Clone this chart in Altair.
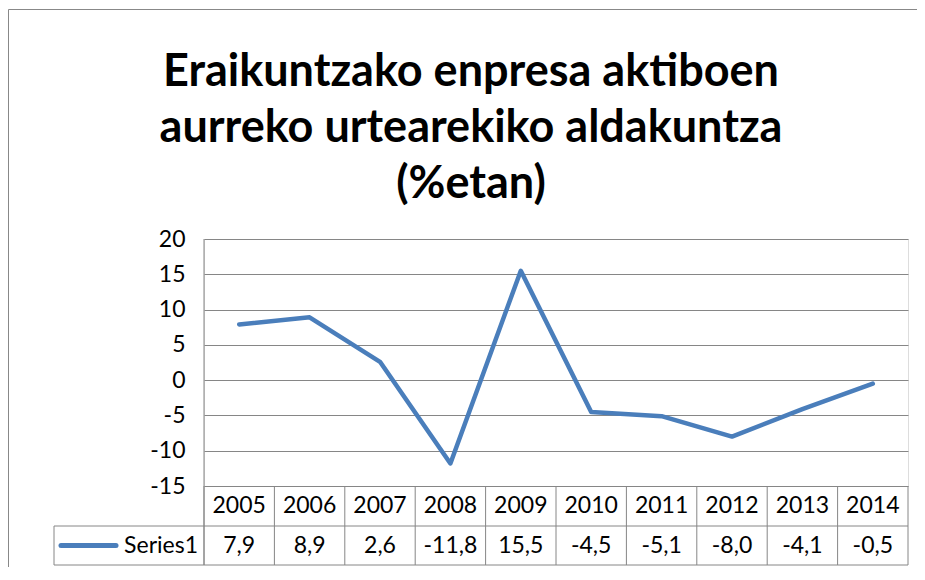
import altair as alt
import pandas as pd

years = ["2005", "2006", "2007", "2008", "2009", "2010", "2011", "2012", "2013", "2014"]
values = [7.9, 8.9, 2.6, -11.8, 15.5, -4.5, -5.1, -8.0, -4.1, -0.5]
labels = [f"{v:.1f}".replace(".", ",") for v in values]
series_name = "Series1"
title_lines = ["Eraikuntzako enpresa aktiboen", "aurreko urtearekiko aldakuntza", "(%etan)"]
y_ticks = [-15, -10, -5, 0, 5, 10, 15, 20]

df = pd.DataFrame({"year": years, "value": values, "label": labels})

W, H = 704, 247
ROW1, ROW2 = H + 40, H + 79   # bottom edges of the two table rows
FONT = "Lato"
FS = 23
GRID = "#868686"
BLUE = "#4A7EBB"

xscale = alt.Scale(type="band", paddingInner=0, paddingOuter=0, domain=years)
yscale = alt.Scale(domain=[-15, 20], nice=False, zero=False)

base = alt.Chart(df)

line = base.mark_line(color=BLUE, strokeWidth=4.5, strokeCap="round", strokeJoin="round").encode(
    x=alt.X("year:N", bandPosition=0.5, scale=xscale, axis=None),
    y=alt.Y("value:Q", scale=yscale,
            axis=alt.Axis(values=y_ticks, grid=True, gridColor=GRID, gridWidth=1,
                          domain=False, ticks=False, labelFont=FONT, labelFontSize=FS,
                          labelExpr="toString(datum.value)",
                          labelColor="black", labelPadding=19, title=None)),
)

col_rules = base.mark_rule(color=GRID, strokeWidth=1).encode(
    x=alt.X("year:N", bandPosition=0, scale=xscale, axis=None),
    y=alt.value(H), y2=alt.value(ROW2),
)

year_text = base.mark_text(font=FONT, fontSize=FS, color="black", baseline="middle").encode(
    x=alt.X("year:N", bandPosition=0.5, scale=xscale, axis=None),
    y=alt.value((H + ROW1) / 2), text="year:N",
)
val_text = base.mark_text(font=FONT, fontSize=FS, color="black", baseline="middle").encode(
    x=alt.X("year:N", bandPosition=0.5, scale=xscale, axis=None),
    y=alt.value((ROW1 + ROW2) / 2), text="label:N",
)

one = alt.Chart(pd.DataFrame({"a": [0]}))
mid2 = (ROW1 + ROW2) / 2
right_rule = one.mark_rule(color=GRID).encode(x=alt.value(W), y=alt.value(H), y2=alt.value(ROW2))
axis_rule = one.mark_rule(color=GRID).encode(x=alt.value(0), y=alt.value(0), y2=alt.value(ROW2))
hline1 = one.mark_rule(color=GRID).encode(x=alt.value(-150), x2=alt.value(W), y=alt.value(ROW1))
hline2 = one.mark_rule(color=GRID).encode(x=alt.value(-150), x2=alt.value(W), y=alt.value(ROW2))
vleft = one.mark_rule(color=GRID).encode(x=alt.value(-150), y=alt.value(ROW1), y2=alt.value(ROW2))
legend_line = one.mark_rule(color=BLUE, strokeWidth=5, strokeCap="round").encode(
    x=alt.value(-143), x2=alt.value(-88), y=alt.value(mid2))
series_text = one.mark_text(font=FONT, fontSize=FS, color="black", align="right", baseline="middle").encode(
    x=alt.value(-6), y=alt.value(mid2), text=alt.value(series_name))

outer_top = one.mark_rule(color="#888888").encode(x=alt.value(-195.5), x2=alt.value(W + 9), y=alt.value(-229.5))
outer_left = one.mark_rule(color="#888888").encode(x=alt.value(-195.5), y=alt.value(-229.5), y2=alt.value(ROW2 + 3))

title = one.mark_text(font=FONT, fontSize=45, fontWeight="bold", color="black", align="center",
                      baseline="alphabetic", lineHeight=56, lineBreak="\n").encode(
    x=alt.value(267), y=alt.value(86 - 239), text=alt.value("\n".join(title_lines)))

chart = alt.layer(
    outer_top, outer_left, title,
    col_rules, right_rule, axis_rule, hline1, hline2, vleft,
    year_text, val_text, legend_line, series_text, line,
).properties(
    width=W, height=H,
    autosize=alt.AutoSizeParams(type="none"),
    padding={"left": 196, "top": 231, "right": 9, "bottom": 81},
).configure_view(stroke=None).configure(background="white")

chart.save("out.html", embed_options={"renderer": "svg", "actions": False})
